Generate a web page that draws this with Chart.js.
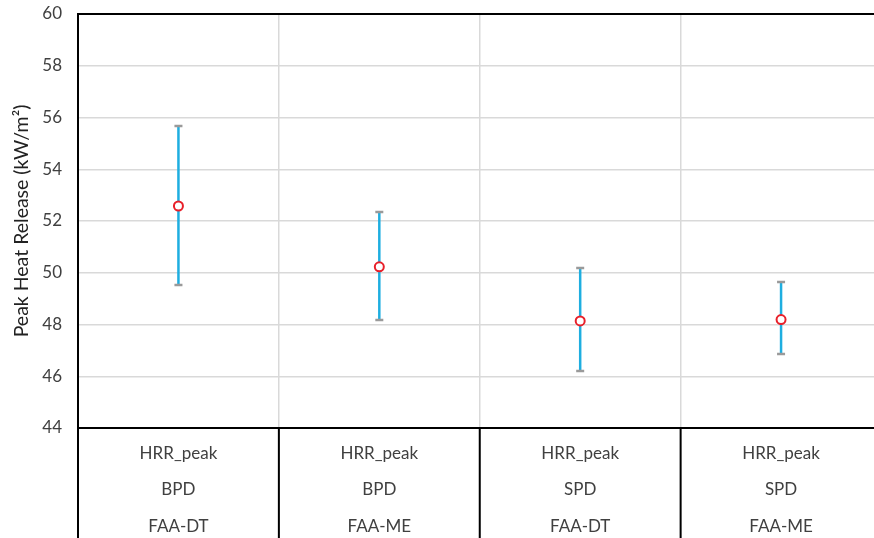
<!DOCTYPE html>
<html>
<head>
<meta charset="utf-8">
<script src="https://cdn.jsdelivr.net/npm/chart.js@4.4.1/dist/chart.umd.min.js"></script>
<style>
  html, body { margin: 0; padding: 0; background: #fff; overflow: hidden; }
</style>
</head>
<body>
<canvas id="hrrChart" width="888" height="538"></canvas>
<script>
const categorias = [
    ["HRR_peak", "BPD", "FAA-DT"],
    ["HRR_peak", "BPD", "FAA-ME"],
    ["HRR_peak", "SPD", "FAA-DT"],
    ["HRR_peak", "SPD", "FAA-ME"]
];
const medias = [52.58, 50.23, 48.14, 48.19];
const maximos = [55.67, 52.35, 50.18, 49.64];
const minimos = [49.53, 48.17, 46.2, 46.86];

const corTexto = "#404040";

// barras de erro desenhadas pelas escalas do grafico
const barrasErro = {
    id: "barrasErro",
    beforeDatasetsDraw(chart) {
        const c = chart.ctx;
        const x = chart.scales.x;
        const y = chart.scales.y;
        c.save();
        medias.forEach((m, i) => {
            const px = x.getPixelForValue(i);
            const top = y.getPixelForValue(maximos[i]);
            const bot = y.getPixelForValue(minimos[i]);
            c.strokeStyle = "#1eaee0";
            c.lineWidth = 2.5;
            c.beginPath();
            c.moveTo(px, top);
            c.lineTo(px, bot);
            c.stroke();
            c.strokeStyle = "#9a9a9a";
            c.lineWidth = 2.5;
            c.beginPath();
            c.moveTo(px - 4, top);
            c.lineTo(px + 4, top);
            c.moveTo(px - 4, bot);
            c.lineTo(px + 4, bot);
            c.stroke();
        });
        c.restore();
    },
    afterDraw(chart) {
        const c = chart.ctx;
        const a = chart.chartArea;
        const x = chart.scales.x;
        c.save();
        c.strokeStyle = "#000";
        c.lineWidth = 2;
        c.beginPath();
        c.moveTo(a.left, a.top);
        c.lineTo(a.right, a.top);
        for (let i = 1; i < categorias.length; i++) {
            const px = (x.getPixelForValue(i - 1) + x.getPixelForValue(i)) / 2;
            c.moveTo(px, a.bottom);
            c.lineTo(px, chart.height);
        }
        c.moveTo(a.left, a.bottom);
        c.lineTo(a.left, chart.height);
        c.stroke();
        c.restore();
    }
};

new Chart(document.getElementById("hrrChart").getContext("2d"), {
    type: "line",
    data: {
        labels: categorias,
        datasets: [{
            label: "HRR_peak",
            data: medias,
            showLine: false,
            pointStyle: "circle",
            pointRadius: 4.5,
            pointBorderWidth: 2,
            pointBorderColor: "#e8202a",
            pointBackgroundColor: "#ffffff"
        }]
    },
    options: {
        responsive: false,
        animation: false,
        layout: { padding: { top: 14, right: 2, left: 0, bottom: 0 } },
        plugins: {
            legend: { display: false },
            tooltip: { enabled: false }
        },
        scales: {
            x: {
                type: "category",
                offset: true,
                afterFit: s => { s.height = 110; s.paddingLeft = 0; s.paddingRight = 0; },
                grid: { offset: true, color: "#d9d9d9", lineWidth: 1.5, drawTicks: false },
                border: { color: "#000", width: 2 },
                ticks: {
                    color: corTexto,
                    padding: 7,
                    maxRotation: 0,
                    autoSkip: false,
                    font: { family: "Lato", size: 17, lineHeight: 2.15 }
                }
            },
            y: {
                min: 44,
                max: 60,
                afterFit: s => { s.width = 78; s.paddingTop = 0; s.paddingBottom = 0; },
                grid: { color: "#d9d9d9", lineWidth: 1.5, drawTicks: false },
                border: { color: "#000", width: 2 },
                ticks: {
                    stepSize: 2,
                    color: corTexto,
                    padding: 16,
                    font: { family: "Lato", size: 17 }
                },
                title: {
                    display: true,
                    text: "Peak Heat Release (kW/m²)",
                    color: "#222",
                    padding: { top: 10, bottom: 4 },
                    font: { family: "Lato", size: 19.5 }
                }
            }
        }
    },
    plugins: [barrasErro]
});
</script>
</body>
</html>
